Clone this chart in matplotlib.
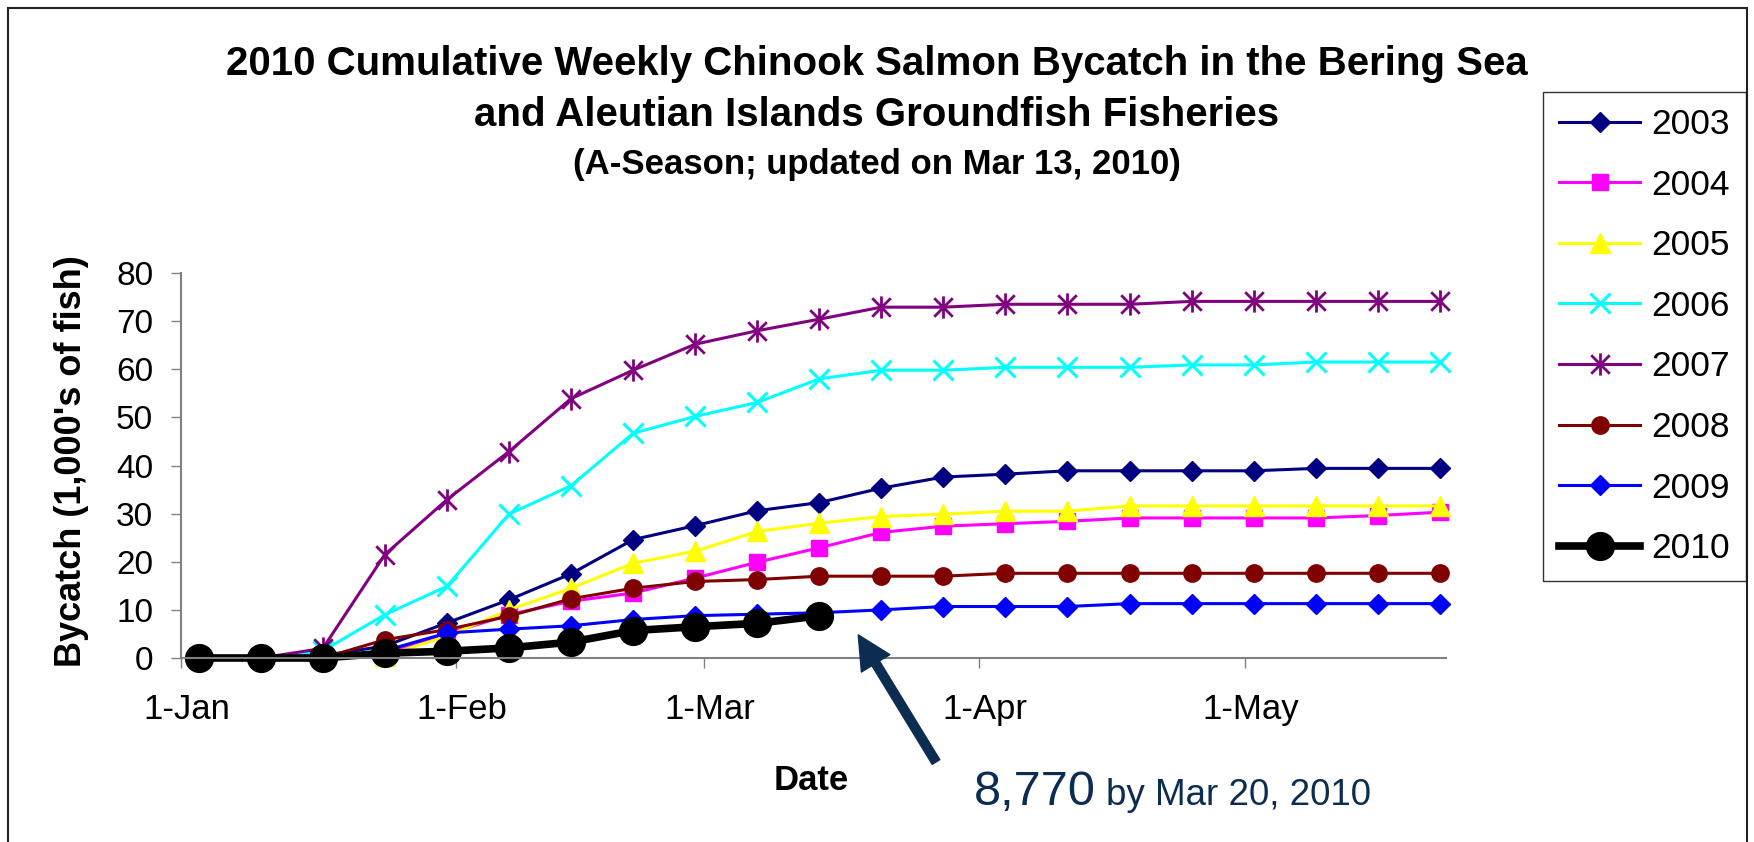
import matplotlib
matplotlib.use('Agg')
import matplotlib.pyplot as plt
import matplotlib.dates as mdates
from matplotlib.path import Path
from matplotlib.patches import Rectangle
from matplotlib.transforms import ScaledTranslation

plt.rcParams['font.family'] = ['Liberation Sans', 'DejaVu Sans']

# week-ending dates (plotted on a common 2010 calendar)
weeks = ['2010-01-03', '2010-01-10', '2010-01-17', '2010-01-24', '2010-01-31',
         '2010-02-07', '2010-02-14', '2010-02-21', '2010-02-28', '2010-03-07',
         '2010-03-14', '2010-03-21', '2010-03-28', '2010-04-04', '2010-04-11',
         '2010-04-18', '2010-04-25', '2010-05-02', '2010-05-09', '2010-05-16',
         '2010-05-23']

# cumulative bycatch, 1,000's of fish
y2003 = [0, 0, 0.5, 2.5, 7.3, 12.1, 17.5, 24.6, 27.5, 30.6, 32.3, 35.3, 37.6, 38.2,
         38.9, 38.9, 38.9, 38.9, 39.4, 39.4, 39.4]
y2004 = [0, 0, 0, 1.0, 5.0, 9.0, 11.8, 13.5, 16.6, 19.9, 22.9, 26.1, 27.4, 27.9,
         28.4, 29.1, 29.1, 29.1, 29.1, 29.6, 30.3]
y2005 = [0, 0, 0, 0.5, 4.5, 10.0, 14.5, 19.7, 22.2, 26.3, 28.0, 29.4, 29.9, 30.5,
         30.5, 31.6, 31.6, 31.6, 31.6, 31.6, 31.6]
y2006 = [0, 0, 1.5, 9.0, 14.9, 29.9, 35.8, 46.7, 50.2, 53.1, 58.0, 59.8, 59.8, 60.4,
         60.4, 60.4, 60.9, 60.9, 61.5, 61.5, 61.5]
y2007 = [0, 0, 2.0, 21.5, 32.9, 42.9, 53.9, 59.8, 65.2, 68.0, 70.4, 72.9, 72.9, 73.5,
         73.5, 73.5, 74.1, 74.1, 74.1, 74.1, 74.1]
y2008 = [0, 0, 0, 3.8, 5.9, 8.7, 12.3, 14.5, 15.9, 16.3, 17.0, 17.0, 17.0, 17.6,
         17.6, 17.6, 17.6, 17.6, 17.6, 17.6, 17.6]
y2009 = [0, 0, 0, 1.5, 5.2, 6.0, 6.7, 8.0, 8.8, 9.1, 9.4, 10.0, 10.7, 10.7,
         10.7, 11.3, 11.3, 11.3, 11.3, 11.3, 11.3]
y2010 = [0, 0, 0, 1.0, 1.4, 2.1, 3.3, 5.7, 6.5, 7.2, 8.77]

years = ['2003', '2004', '2005', '2006', '2007', '2008', '2009', '2010']
month_ticks = ['2010-01-01', '2010-02-01', '2010-03-01', '2010-04-01', '2010-05-01']
month_labels = ['1-Jan', '1-Feb', '1-Mar', '1-Apr', '1-May']

# Excel style asterisk marker (x plus vertical bar)
star = Path([(-1, -1), (1, 1), (-1, 1), (1, -1), (0, -1.2), (0, 1.2)],
            [Path.MOVETO, Path.LINETO, Path.MOVETO, Path.LINETO, Path.MOVETO, Path.LINETO])

styles = {
    '2003': dict(color='#000080', marker='D', ms=10.5, lw=2.2),
    '2004': dict(color='#FF00FF', marker='s', ms=11, lw=2.2),
    '2005': dict(color='#FFFF00', marker='^', ms=14, lw=2.2),
    '2006': dict(color='#00FFFF', marker='x', ms=14, lw=2.2, mew=2.2),
    '2007': dict(color='#800080', marker=star, ms=16, lw=2.2, mew=2.0),
    '2008': dict(color='#800000', marker='o', ms=12.5, lw=2.2),
    '2009': dict(color='#0000FF', marker='D', ms=10.5, lw=2.2),
    '2010': dict(color='#000000', marker='o', ms=20, lw=5.5),
}
series = [y2003, y2004, y2005, y2006, y2007, y2008, y2009, y2010]

W, H = 1754, 842
fig = plt.figure(figsize=(W / 100, H / 100), dpi=100)
ax = fig.add_axes([181 / W, 1 - 658 / H, (1446 - 181) / W, (658 - 273) / H])

dates = mdates.datestr2num(weeks)
for yr, vals in zip(years, series):
    st = styles[yr]
    ax.plot(dates[:len(vals)], vals, color=st['color'], lw=st['lw'], marker=st['marker'],
            ms=st['ms'], mew=st.get('mew', 1), mfc=st['color'], mec=st['color'],
            label=yr, clip_on=False)

ax.set_ylim(0, 80)
ax.set_yticks(range(0, 81, 10))
start = mdates.datestr2num('2010-01-01')
ax.set_xlim(start, start + 142.7)
ax.set_xticks(mdates.datestr2num(month_ticks))
ax.set_xticklabels(month_labels)

for side in ['top', 'right']:
    ax.spines[side].set_visible(False)
for side in ['left', 'bottom']:
    ax.spines[side].set_color('#808080')
    ax.spines[side].set_linewidth(1.5)
ax.tick_params(axis='y', length=7, width=1, color='#808080', labelsize=24, pad=13)
ax.tick_params(axis='x', length=7, width=1, color='#808080', labelsize=25, pad=18)
shift = ScaledTranslation(6 / 100, 0, fig.dpi_scale_trans)
for lbl in ax.get_xticklabels():
    lbl.set_transform(lbl.get_transform() + shift)

# titles and axis labels
fig.text(0.5, 1 - 75 / H, '2010 Cumulative Weekly Chinook Salmon Bycatch in the Bering Sea',
         ha='center', va='baseline', fontsize=29, weight='bold')
fig.text(0.5, 1 - 126 / H, 'and Aleutian Islands Groundfish Fisheries',
         ha='center', va='baseline', fontsize=29, weight='bold')
fig.text(0.5, 1 - 174 / H, '(A-Season; updated on Mar 13, 2010)',
         ha='center', va='baseline', fontsize=25, weight='bold')
fig.text(72 / W, 1 - 461 / H, "Bycatch (1,000's of fish)", rotation=90,
         ha='center', va='center', fontsize=26, weight='bold')
fig.text(811 / W, 1 - 780 / H, 'Date', ha='center', va='center', fontsize=25, weight='bold')

# annotation for latest 2010 value
navy = '#0C2D51'
fig.text(974 / W, 1 - 805 / H, '8,770', ha='left', va='baseline', fontsize=35, color=navy)
fig.text(1106 / W, 1 - 805 / H, 'by Mar 20, 2010', ha='left', va='baseline', fontsize=26.5, color=navy)
ax.annotate('', xy=(mdates.datestr2num('2010-03-18') + 0.4, 4.8), xycoords='data',
            xytext=(936, H - 762), textcoords='figure pixels',
            arrowprops=dict(arrowstyle='simple,head_length=1.2,head_width=1.2,tail_width=0.32',
                            mutation_scale=20, color=navy, shrinkA=0, shrinkB=0),
            annotation_clip=False)

leg = fig.legend(loc='upper left', bbox_to_anchor=(1543 / W, 1 - 92 / H), fontsize=25.5,
                 frameon=True, fancybox=False, edgecolor='black', handlelength=2.3,
                 handletextpad=0.3, borderpad=0.45, labelspacing=0.78, borderaxespad=0)
leg.get_frame().set_linewidth(1.0)

# outer border of the chart area
fig.patches.append(Rectangle((8 / W, -0.02), (1747 - 8) / W, 1 - 8 / H + 0.02,
                             transform=fig.transFigure, fill=False, ec='#222222', lw=1.5))

fig.savefig('out.png', dpi=100)
